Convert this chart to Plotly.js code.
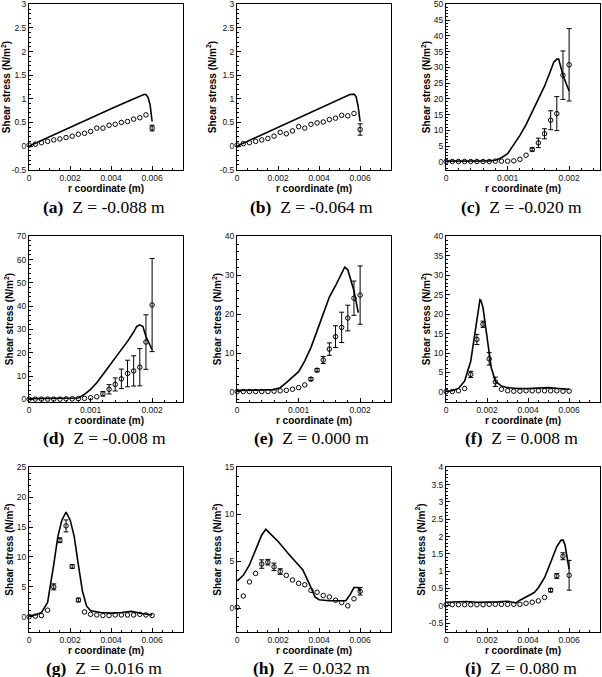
<!DOCTYPE html>
<html>
<head>
<meta charset="utf-8">
<script src="https://cdn.plot.ly/plotly-3.0.1.min.js"></script>
<style>html,body{margin:0;padding:0;background:#fff}#chart{width:602px;height:677px}</style>
</head>
<body>
<div id="chart"></div>
<script>
// ---------- shared experimental r positions ----------
const rExpWide = [0,0.0003,0.0006,0.0009,0.0012,0.0015,0.0018,0.0021,0.0024,0.0027,0.003,0.0033,0.0036,0.0039,0.0042,0.0045,0.0048,0.0051,0.0054,0.0057,0.006];
const rExpNarrow = [0,0.0001,0.0002,0.0003,0.0004,0.0005,0.0006,0.0007,0.0008,0.0009,0.001,0.0011,0.0012,0.0013,0.0014,0.0015,0.0016,0.0017,0.0018,0.0019,0.002];

// ---------- (a) Z = -0.088 m ----------
const aLineR = [0,0.001,0.002,0.003,0.004,0.005,0.0054,0.0056,0.0057,0.0058,0.0059,0.006];
const aLineY = [0,0.2,0.39,0.59,0.79,0.98,1.06,1.09,1.09,1.03,0.88,0.52];
const aExpY  = [0.02,0.04,0.07,0.1,0.13,0.15,0.18,0.21,0.25,0.27,0.31,0.38,0.38,0.44,0.46,0.5,0.52,0.57,0.6,0.66,0.38];
const aErr   = [0,0,0,0,0,0,0,0,0,0,0,0,0,0,0,0,0,0,0,0,0.06];

// ---------- (b) Z = -0.064 m ----------
const bLineR = [0,0.001,0.002,0.003,0.004,0.005,0.0053,0.0055,0.0057,0.0058,0.0059,0.006];
const bLineY = [0,0.2,0.4,0.6,0.8,1.0,1.05,1.09,1.1,1.05,0.85,0.52];
const bExpY  = [0.02,0.05,0.07,0.1,0.13,0.16,0.21,0.29,0.26,0.32,0.41,0.38,0.46,0.49,0.51,0.56,0.59,0.65,0.64,0.69,0.35];
const bErr   = [0,0,0,0,0,0,0,0,0,0,0,0,0,0,0,0,0,0,0,0,0.12];

// ---------- (c) Z = -0.020 m ----------
const cLineR = [0,0.0002,0.0004,0.0006,0.0007,0.0008,0.0009,0.001,0.0011,0.0012,0.0013,0.0014,0.0015,0.0016,0.0017,0.00175,0.0018,0.00183,0.0019,0.002];
const cLineY = [0.2,0.2,0.2,0.25,0.3,0.5,1.3,2.6,5.3,8.4,11.8,15.8,20,24,29,31.6,32.6,32.6,27.5,22.5];
const cExpY  = [0.1,0.1,0.1,0.1,0.1,0.1,0.1,0.1,0.2,0.2,0.2,0.3,0.8,2.1,3.9,6.0,8.9,13.2,15.3,27.5,30.8];
const cErr   = [0,0,0,0,0,0,0,0,0,0,0,0,0,0,0.5,1.5,1.6,3,5.4,7.7,11.5];

// ---------- (d) Z = -0.008 m ----------
const dLineR = [0,0.0002,0.0004,0.0006,0.0007,0.0008,0.0009,0.001,0.0011,0.0012,0.0013,0.0014,0.0015,0.0016,0.0017,0.00175,0.0018,0.00185,0.0019,0.002];
const dLineY = [0.3,0.3,0.3,0.3,0.3,0.6,2.1,4.3,7.1,10.4,14.2,17.8,21.3,24.9,28.9,31.3,32,31.3,27,21.3];
const dExpY  = [0.1,0.1,0.1,0.1,0.1,0.1,0.2,0.2,0.3,0.4,0.7,1.1,2.4,4.3,6.4,8.8,11.1,12.2,13.8,24.6,40.5];
const dErr   = [0,0,0,0,0,0,0,0,0,0,0,0,1,2,2.8,4.2,5.7,6.5,8,11.7,20];

// ---------- (e) Z = 0.000 m ----------
const eLineR = [0,0.0002,0.0004,0.0006,0.0007,0.0008,0.0009,0.001,0.0011,0.0012,0.0013,0.0014,0.0015,0.0016,0.0017,0.00175,0.0018,0.0019,0.00197];
const eLineY = [0.4,0.4,0.5,0.6,1.1,2.4,3.7,5.2,8,11.4,15.7,20,24.4,27.3,30.7,32.1,31.4,26,20.4];
const eExpY  = [0.1,0.1,0.1,0.1,0.1,0.1,0.2,0.3,0.4,0.7,1.1,1.8,3.3,5.6,8.2,11,14.2,16.6,19,24.1,24.9];
const eErr   = [0,0,0,0,0,0,0,0,0,0,0,0,0.4,0.4,0.9,1.6,2.8,3.9,3.3,4.4,7.5];

// ---------- (f) Z = 0.008 m ----------
const fLineR = [0,0.0003,0.0006,0.0009,0.0012,0.0014,0.0015,0.0016,0.00165,0.0017,0.0018,0.002,0.0022,0.0024,0.0027,0.003,0.0035,0.004,0.0045,0.005,0.0055,0.006];
const fLineY = [0.25,0.3,0.9,2.8,7.9,14.8,18.2,22.5,23.7,23.5,21.6,13.9,6.2,2.8,1.5,1.1,0.9,0.9,1.0,1.1,0.9,0.7];
const fExpY  = [0.1,0.1,0.3,0.9,4.5,13.5,17.4,8.5,2.6,0.7,0.3,0.2,0.2,0.3,0.3,0.3,0.3,0.3,0.3,0.2,0.2];
const fErr   = [0,0,0,0,0.8,1.3,0.8,1.6,1.2,0,0,0,0,0,0,0,0,0,0,0,0];

// ---------- (g) Z = 0.016 m ----------
const gLineR = [0,0.0003,0.0006,0.0009,0.0012,0.0014,0.0016,0.0018,0.002,0.0022,0.0024,0.0026,0.0028,0.003,0.0035,0.004,0.0045,0.005,0.0055,0.006];
const gLineY = [0.2,0.3,0.7,2.4,8.7,13.4,16.2,17.5,16.2,13.4,8.7,4.3,1.8,1.0,0.7,0.6,0.7,0.9,0.55,0.3];
const gExpY  = [0,0.1,0.2,1.1,5.0,12.8,15.2,8.4,2.8,0.8,0.4,0.3,0.2,0.2,0.3,0.3,0.3,0.3,0.4,0.3,0.2];
const gErr   = [0,0,0,0,0.5,0.4,1.0,0.3,0.3,0,0,0,0,0,0,0,0,0,0,0,0];

// ---------- (h) Z = 0.032 m ----------
const hLineR = [0,0.0003,0.0006,0.0009,0.0012,0.0014,0.0016,0.002,0.0025,0.003,0.0032,0.0035,0.0038,0.004,0.0045,0.005,0.0053,0.0055,0.0057,0.0059,0.006];
const hLineY = [2.9,3.5,4.6,6.2,7.8,8.4,8.0,7.1,5.8,4.6,4.1,2.7,1.2,0.9,0.8,0.8,0.8,1.4,2.2,2.2,1.8];
const hExpY  = [0.1,1.3,2.8,3.7,4.7,4.9,4.4,3.9,3.5,3.0,2.65,2.5,1.9,1.7,1.35,1.2,0.85,0.6,0.25,1.0,1.8];
const hErr   = [0,0,0,0,0.45,0.3,0.4,0.3,0,0,0,0,0,0,0,0,0,0,0,0,0.4];

// ---------- (i) Z = 0.080 m ----------
const iLineR = [0,0.0005,0.001,0.0015,0.002,0.0025,0.003,0.0033,0.0034,0.0036,0.004,0.0043,0.0045,0.0048,0.005,0.0052,0.0054,0.0056,0.0057,0.0058,0.0059,0.006];
const iLineY = [0.1,0.12,0.12,0.1,0.1,0.11,0.13,0.1,0.08,0.16,0.29,0.38,0.52,0.81,1.1,1.43,1.71,1.89,1.9,1.76,1.38,1.05];
const iExpY  = [0.03,0.03,0.03,0.03,0.03,0.03,0.03,0.04,0.04,0.04,0.04,0.04,0.04,0.07,0.1,0.14,0.24,0.45,0.86,1.43,0.88];
const iErr   = [0,0,0,0,0,0,0,0,0,0,0,0,0,0,0,0,0,0.05,0.07,0.1,0.43];

// ---------- captions & tick labels ----------
const captionLetters = ['(a)','(b)','(c)','(d)','(e)','(f)','(g)','(h)','(i)'];
const captionZ = ['Z = -0.088 m','Z = -0.064 m','Z = -0.020 m','Z = -0.008 m','Z = 0.000 m','Z = 0.008 m','Z = 0.016 m','Z = 0.032 m','Z = 0.080 m'];
const yTicksA = [-0.5,0,0.5,1,1.5,2,2.5,3];
const yTicksC = [0,5,10,15,20,25,30,35,40,45,50];
const yTicksD = [0,10,20,30,40,50,60,70];
const yTicksE = [0,10,20,30,40];
const yTicksF = [0,5,10,15,20,25,30,35,40];
const yTicksG = [0,5,10,15,20,25];
const yTicksH = [0,5,10,15];
const yTicksI = [-0.5,0,0.5,1,1.5,2,2.5,3,3.5,4];
const yTickSets = [yTicksA,yTicksA,yTicksC,yTicksD,yTicksE,yTicksF,yTicksG,yTicksH,yTicksI];
const xTicksWide = [0,0.002,0.004,0.006];
const xTicksNarrow = [0,0.001,0.002];
const xTickSets = [xTicksWide,xTicksWide,xTicksNarrow,xTicksNarrow,xTicksNarrow,xTicksWide,xTicksWide,xTicksWide,xTicksWide];

const yRanges = [[-0.5,3],[-0.5,3],[-2.5,50],[-1,70],[-2.5,40],[-2.5,40],[-2.5,25],[-2.5,15],[-0.75,4]];
const yMinor  = [0.1,0.1,1,2,2,1,1,1,0.1];
const xRanges = [[0,0.0075],[0,0.0075],[0,0.0025],[0,0.0025],[0,0.0025],[0,0.0075],[0,0.0075],[0,0.0075],[0,0.0075]];
const xMinor  = [0.0005,0.0005,0.0002,0.0002,0.0002,0.0005,0.0005,0.0005,0.0005];

const panels = [
  {lr:aLineR, ly:aLineY, er:rExpWide,   ey:aExpY, err:aErr},
  {lr:bLineR, ly:bLineY, er:rExpWide,   ey:bExpY, err:bErr},
  {lr:cLineR, ly:cLineY, er:rExpNarrow, ey:cExpY, err:cErr},
  {lr:dLineR, ly:dLineY, er:rExpNarrow, ey:dExpY, err:dErr},
  {lr:eLineR, ly:eLineY, er:rExpNarrow, ey:eExpY, err:eErr},
  {lr:fLineR, ly:fLineY, er:rExpWide,   ey:fExpY, err:fErr},
  {lr:gLineR, ly:gLineY, er:rExpWide,   ey:gExpY, err:gErr},
  {lr:hLineR, ly:hLineY, er:rExpWide,   ey:hExpY, err:hErr},
  {lr:iLineR, ly:iLineY, er:rExpWide,   ey:iExpY, err:iErr}
];

const W = 602, H = 677;
const colPx = [[29,183],[237,391],[446,600]];
const rowPx = [[4,170],[236,402],[467,632]];
const capCx = [104,311,521];
const capCy = [207,438,668];

const data = [];
const layout = {
  width: W, height: H,
  margin: {l:0,r:0,t:0,b:0},
  paper_bgcolor: '#fff', plot_bgcolor: '#fff',
  showlegend: false,
  font: {family: 'Liberation Sans, Arial, sans-serif', color: '#000', size: 8},
  annotations: []
};

panels.forEach((p, k) => {
  const row = Math.floor(k/3), col = k % 3;
  const n = k+1;
  const xa = 'x' + (n===1?'':n), ya = 'y' + (n===1?'':n);
  const xk = 'xaxis' + (n===1?'':n), yk = 'yaxis' + (n===1?'':n);
  const yr = yRanges[k], xr = xRanges[k];
  const yEps = (yr[1]-yr[0])*2e-3, xEps = (xr[1]-xr[0])*1e-3;
  data.push({
    x: p.lr, y: p.ly, xaxis: xa, yaxis: ya, type: 'scatter', mode: 'lines',
    line: {color: '#000', width: 1.6}
  });
  data.push({
    x: p.er, y: p.ey, xaxis: xa, yaxis: ya, type: 'scatter', mode: 'markers',
    marker: {symbol: 'circle-open', size: 4.5, color: '#000', line: {width: 1, color: '#000'}},
    error_y: {type: 'data', array: p.err.map(e => e > 0 ? e : NaN), visible: true,
              color: '#000', thickness: 1, width: 2.5},
    cliponaxis: false
  });
  const xt = xTickSets[k], yt = yTickSets[k];
  layout[xk] = {
    domain: [colPx[col][0]/W, colPx[col][1]/W], anchor: ya,
    range: [xr[0]-xEps, xr[1]+xEps],
    tickmode: 'array', tickvals: xt, ticktext: xt.map(v => String(v)),
    ticks: 'inside', ticklen: 4, tickwidth: 1, tickcolor: '#000',
    ticklabeloverflow: 'allow',
    minor: {tickmode: 'linear', tick0: 0, dtick: xMinor[k], ticks: 'inside', ticklen: 2, tickcolor: '#000', tickwidth: 1},
    showline: true, linecolor: '#000', linewidth: 1, mirror: true,
    showgrid: false, zeroline: false,
    tickfont: {size: 8.5, color: '#111'},
    title: {text: 'r coordinate (m)', font: {size: 10, weight: 'bold', color: '#000'}, standoff: 2}
  };
  layout[yk] = {
    domain: [1 - rowPx[row][1]/H, 1 - rowPx[row][0]/H], anchor: xa,
    range: [yr[0]-yEps, yr[1]+yEps],
    tickmode: 'array', tickvals: yt, ticktext: yt.map(v => String(v)),
    ticks: 'inside', ticklen: 4, tickwidth: 1, tickcolor: '#000',
    ticklabeloverflow: 'allow',
    minor: {tickmode: 'linear', tick0: 0, dtick: yMinor[k], ticks: 'inside', ticklen: 2, tickcolor: '#000', tickwidth: 1},
    showline: true, linecolor: '#000', linewidth: 1, mirror: true,
    showgrid: false, zeroline: false,
    tickfont: {size: 8.5, color: '#111'},
    title: {text: 'Shear stress (N/m<sup>2</sup>)', font: {size: 10, weight: 'bold', color: '#000'}, standoff: 1}
  };
  layout.annotations.push({
    xref: 'paper', yref: 'paper', x: capCx[col]/W, y: 1 - capCy[row]/H,
    xanchor: 'center', yanchor: 'middle', showarrow: false,
    text: '<b>' + captionLetters[k] + '</b>  ' + captionZ[k],
    font: {family: 'Liberation Serif, DejaVu Serif, serif', size: 17.5, color: '#000'}
  });
});

Plotly.newPlot('chart', data, layout, {staticPlot: true, displayModeBar: false});
</script>
</body>
</html>
